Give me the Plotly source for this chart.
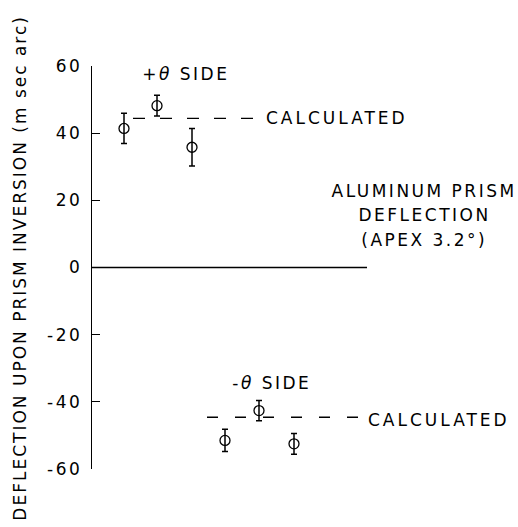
import plotly.graph_objects as go

# ---- data ----
plus_x = [32, 65, 100]            # horizontal positions (arbitrary units, no x axis)
plus_y = [41.4, 48.2, 35.8]
plus_err = [4.5, 3.1, 5.6]
minus_x = [133, 167, 202]
minus_y = [-51.5, -42.6, -52.5]
minus_err = [3.3, 3.0, 3.1]
calc_plus = 44.4
calc_minus = -44.6
calc_plus_x = [41, 168]
calc_minus_x = [115, 268]
zero_x = [0, 275]
y_ticks = [-60, -40, -20, 0, 20, 40, 60]
y_tick_labels = ["-60", "-40", "-20", "0", "20", "40", "60"]

FONT = "DejaVu Sans"
FS = 17
black = "black"

fig = go.Figure()

# zero line
fig.add_trace(go.Scatter(x=zero_x, y=[0, 0], mode="lines",
                         line=dict(color=black, width=1.4), hoverinfo="skip"))
# calculated dashed lines
fig.add_trace(go.Scatter(x=calc_plus_x, y=[calc_plus, calc_plus], mode="lines",
                         line=dict(color=black, width=1.4, dash="12px,15px")))
fig.add_trace(go.Scatter(x=calc_minus_x, y=[calc_minus, calc_minus], mode="lines",
                         line=dict(color=black, width=1.4, dash="11px,17px")))

marker = dict(symbol="circle-open", size=10, color=black, line=dict(width=1.3, color=black))
errstyle = dict(type="data", visible=True, color=black, thickness=1.5, width=3)

fig.add_trace(go.Scatter(x=plus_x, y=plus_y, mode="markers", marker=marker,
                         error_y=dict(array=plus_err, **errstyle)))
fig.add_trace(go.Scatter(x=minus_x, y=minus_y, mode="markers", marker=marker,
                         error_y=dict(array=minus_err, **errstyle)))

def ann(text, x, y, xanchor="center", align="center"):
    fig.add_annotation(text=text, x=x, y=y, xref="x", yref="y", showarrow=False,
                       xanchor=xanchor, yanchor="middle", align=align,
                       font=dict(family=FONT, size=FS, color=black))

ann("+<i>θ</i> SIDE", 94, 57.6)
ann("CALCULATED", 172, calc_plus, xanchor="left", align="left")
ann("-<i>θ</i> SIDE", 180, -34.5)
ann("CALCULATED", 274, calc_minus - 0.8, xanchor="left", align="left")
ann("ALUMINUM PRISM", 332, 22.9)
ann("DEFLECTION", 332, 15.5)
ann("(APEX 3.2°)", 332, 8.3)

fig.add_annotation(text="DEFLECTION UPON PRISM INVERSION (m sec arc)",
                   xref="paper", yref="paper", x=-0.171, y=0.5, textangle=-90,
                   showarrow=False, xanchor="center", yanchor="middle",
                   font=dict(family=FONT, size=17, color=black))

fig.update_layout(
    width=518, height=527,
    margin=dict(l=92, r=0, t=66, b=58),
    paper_bgcolor="white", plot_bgcolor="white",
    showlegend=False,
    xaxis=dict(range=[0, 426], visible=False, fixedrange=True),
    yaxis=dict(range=[-60, 60], tickvals=y_ticks, ticktext=y_tick_labels,
               showline=True, linecolor=black, linewidth=1.4,
               ticks="inside", ticklen=8, tickwidth=1.4, tickcolor=black,
               showgrid=False, zeroline=False, ticklabelstandoff=5,
               tickfont=dict(family=FONT, size=17, color=black), fixedrange=True),
)

post = """
document.body.style.margin = '0';
document.querySelectorAll('.main-svg text').forEach(function(t){
  var s = t.textContent === 'CALCULATED' ? '3px' : '2.5px';
  if (t.textContent.indexOf('INVERSION') >= 0) s = '2px';
  t.style.letterSpacing = s;
});
"""
fig.write_html("out.html", post_script=post, config={"displayModeBar": False})
